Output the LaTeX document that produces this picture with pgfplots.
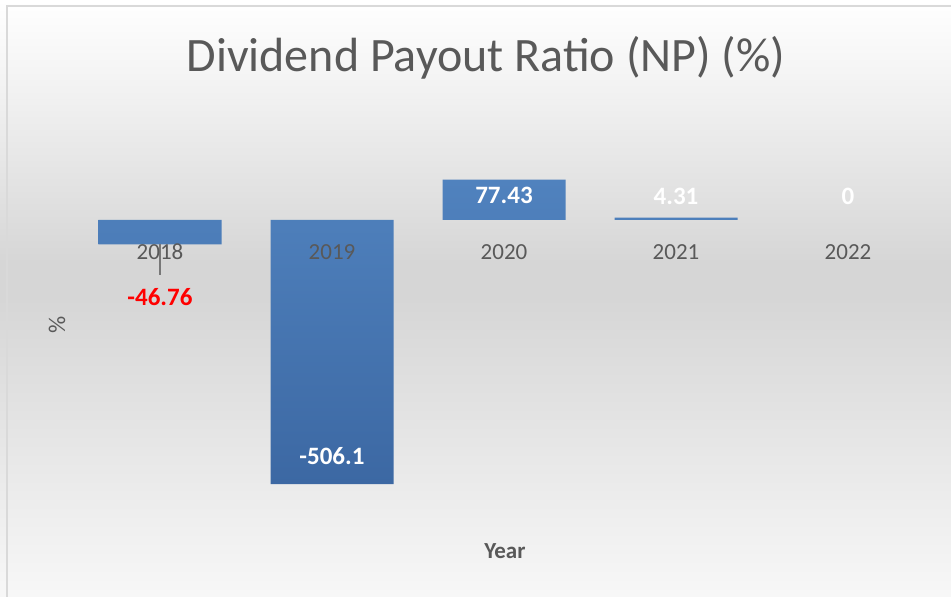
\documentclass[border=0pt]{standalone}
\usepackage{fontspec}
\setmainfont{Carlito}
\usepackage{pgfplots}
\pgfplotsset{compat=1.18}

\definecolor{txtgray}{RGB}{89,89,89}
\definecolor{bgmid}{RGB}{214,214,214}
\definecolor{bartop}{RGB}{80,130,190}
\definecolor{barbot}{RGB}{60,104,163}
\definecolor{framegray}{RGB}{217,217,217}
\definecolor{leader}{RGB}{120,120,120}

% page background: white at top and bottom, grey band in the middle
\pgfdeclareverticalshading{bgshade}{100bp}{
  color(0bp)=(white); color(25bp)=(white!97!black);
  color(50bp)=(bgmid); color(53bp)=(bgmid);
  color(69bp)=(white!96!black); color(75bp)=(white); color(100bp)=(white)}

\begin{document}
\begin{tikzpicture}[x=1pt,y=1pt]
\useasboundingbox (0,0) rectangle (951,597);
\shade[shading=bgshade] (0,0) rectangle (951,597);
\draw[framegray, line width=2pt] (7,0) -- (7,591) -- (951,591);

\begin{axis}[
  at={(74pt,97pt)}, anchor=south west,
  scale only axis, width=860pt, height=370pt,
  xmin=-0.5, xmax=4.5, ymin=-536.7, ymax=172.5,
  axis line style={draw=none}, major tick length=0pt,
  xtick={0,...,4}, xticklabels={2018,2019,2020,2021,2022},
  ytick=\empty,
  axis on top,
  clip=false,
  xticklabel style={font=\fontsize{23}{23}\selectfont, text=txtgray,
    anchor=center, yshift=248pt},
  xlabel={Year},
  xlabel style={at={(axis description cs:0.501,-0.138)}, anchor=center,
    font=\bfseries\fontsize{23}{23}\selectfont, text=txtgray},
  ylabel={\%},
  ylabel style={at={(axis description cs:-0.0198,0.473)}, anchor=center,
    font=\fontsize{24}{24}\selectfont, text=txtgray},
  title={Dividend Payout Ratio (NP) (\%)},
  title style={at={(axis description cs:0.479,1.178)}, anchor=center,
    font=\fontsize{48}{48}\selectfont, text=txtgray},
]
% bars (the 2022 value is 0, so it has no visible bar)
\addplot[ybar, bar width=123pt, draw=none, top color=bartop, bottom color=barbot]
  coordinates {(0,-46.76) (1,-506.1) (2,77.43) (3,4.31)};

% leader line of the 2018 label
\addplot[leader, line width=2pt, no marks] coordinates {(0,-46.76) (0,-105)};

% data labels
\addplot[only marks, mark=none, nodes near coords, point meta=explicit symbolic,
  nodes near coords align={center},
  every node near coord/.append style={font=\bfseries\fontsize{25}{25}\selectfont, text=red}]
  coordinates {(0,-147.6)[-46.76]};
\addplot[only marks, mark=none, nodes near coords, point meta=explicit symbolic,
  nodes near coords align={center},
  every node near coord/.append style={font=\bfseries\fontsize{25}{25}\selectfont, text=white}]
  coordinates {(1,-452.4)[-506.1] (2,47.9)[77.43] (3,46)[4.31] (4,46)[0]};
\end{axis}
\end{tikzpicture}
\end{document}
